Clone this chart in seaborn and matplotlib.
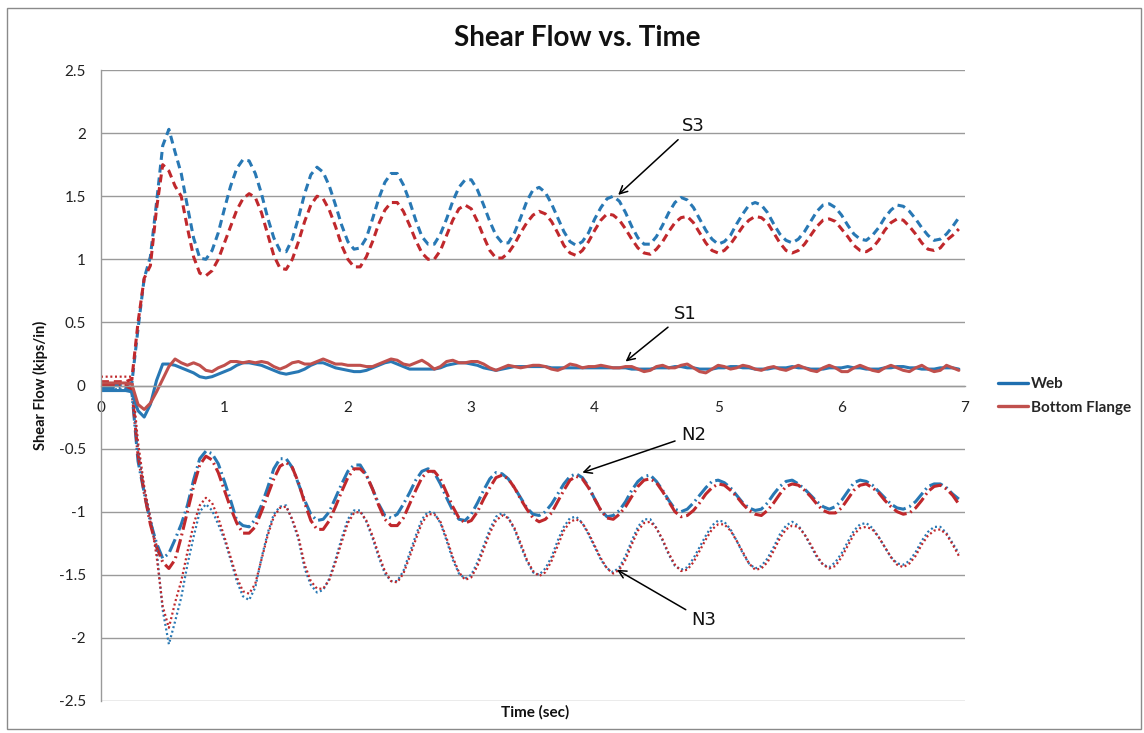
import numpy as np
import pandas as pd
import matplotlib
matplotlib.use("Agg")
import matplotlib.pyplot as plt
from matplotlib.lines import Line2D
from matplotlib.patches import Rectangle
import seaborn as sns

# ---------------- data ----------------
time = np.round(np.arange(0, 140) * 0.05, 2)   # 0.00 ... 6.95 s

s3_web = [0.00, 0.00, 0.00, 0.00, 0.00, 0.02, 0.45, 0.85, 1.02, 1.45,
          1.90, 2.03, 1.85, 1.68, 1.42, 1.17, 1.01, 1.00, 1.07, 1.21,
          1.40, 1.58, 1.72, 1.79, 1.78, 1.68, 1.52, 1.33, 1.17, 1.07,
          1.06, 1.16, 1.33, 1.52, 1.67, 1.73, 1.69, 1.58, 1.43, 1.27,
          1.14, 1.08, 1.09, 1.17, 1.32, 1.48, 1.61, 1.68, 1.68, 1.59,
          1.46, 1.31, 1.18, 1.12, 1.12, 1.20, 1.32, 1.46, 1.57, 1.63,
          1.63, 1.55, 1.43, 1.30, 1.19, 1.13, 1.13, 1.21, 1.33, 1.46,
          1.55, 1.57, 1.53, 1.44, 1.33, 1.22, 1.14, 1.11, 1.14, 1.21,
          1.32, 1.41, 1.48, 1.50, 1.46, 1.37, 1.26, 1.17, 1.12, 1.12,
          1.18, 1.27, 1.37, 1.45, 1.49, 1.47, 1.41, 1.32, 1.23, 1.16,
          1.12, 1.14, 1.19, 1.28, 1.36, 1.43, 1.45, 1.43, 1.37, 1.28,
          1.20, 1.15, 1.13, 1.16, 1.22, 1.30, 1.38, 1.43, 1.44, 1.41,
          1.35, 1.27, 1.20, 1.16, 1.15, 1.19, 1.25, 1.33, 1.39, 1.43,
          1.42, 1.38, 1.32, 1.25, 1.19, 1.15, 1.16, 1.20, 1.26, 1.33]

s3_flange = [0.03, 0.03, 0.03, 0.03, 0.03, 0.05, 0.50, 0.85, 0.95, 1.40,
             1.75, 1.70, 1.58, 1.50, 1.25, 1.02, 0.89, 0.87, 0.91, 1.00,
             1.13, 1.26, 1.39, 1.48, 1.52, 1.49, 1.37, 1.20, 1.03, 0.93,
             0.92, 1.00, 1.14, 1.30, 1.43, 1.50, 1.48, 1.39, 1.26, 1.11,
             1.00, 0.94, 0.94, 1.02, 1.14, 1.28, 1.39, 1.45, 1.45, 1.38,
             1.27, 1.15, 1.05, 1.00, 1.00, 1.07, 1.19, 1.31, 1.40, 1.43,
             1.40, 1.30, 1.18, 1.07, 1.01, 1.01, 1.05, 1.12, 1.21, 1.29,
             1.35, 1.38, 1.36, 1.30, 1.21, 1.11, 1.05, 1.03, 1.07, 1.14,
             1.23, 1.31, 1.36, 1.35, 1.31, 1.24, 1.16, 1.09, 1.05, 1.04,
             1.08, 1.14, 1.22, 1.29, 1.33, 1.34, 1.29, 1.21, 1.13, 1.07,
             1.05, 1.07, 1.12, 1.19, 1.26, 1.31, 1.34, 1.33, 1.29, 1.21,
             1.13, 1.07, 1.05, 1.07, 1.12, 1.19, 1.26, 1.31, 1.32, 1.30,
             1.24, 1.18, 1.11, 1.07, 1.06, 1.09, 1.15, 1.23, 1.29, 1.32,
             1.31, 1.26, 1.20, 1.13, 1.08, 1.07, 1.09, 1.15, 1.19, 1.24]

s1_web = [-0.04, -0.04, -0.04, -0.04, -0.04, -0.05, -0.20, -0.25, -0.15, 0.04,
          0.17, 0.17, 0.16, 0.14, 0.12, 0.10, 0.07, 0.06, 0.07, 0.09,
          0.11, 0.13, 0.16, 0.18, 0.18, 0.17, 0.16, 0.14, 0.12, 0.10,
          0.09, 0.10, 0.11, 0.13, 0.16, 0.18, 0.18, 0.16, 0.14, 0.13,
          0.12, 0.11, 0.11, 0.12, 0.14, 0.16, 0.18, 0.19, 0.17, 0.15,
          0.13, 0.13, 0.13, 0.13, 0.13, 0.14, 0.16, 0.17, 0.18, 0.18,
          0.17, 0.16, 0.14, 0.13, 0.12, 0.13, 0.14, 0.15, 0.15, 0.15,
          0.15, 0.15, 0.15, 0.14, 0.14, 0.14, 0.14, 0.14, 0.14, 0.14,
          0.14, 0.14, 0.14, 0.14, 0.14, 0.14, 0.13, 0.13, 0.13, 0.13,
          0.14, 0.14, 0.14, 0.15, 0.15, 0.14, 0.14, 0.13, 0.13, 0.13,
          0.14, 0.14, 0.15, 0.15, 0.14, 0.14, 0.13, 0.13, 0.13, 0.14,
          0.14, 0.14, 0.15, 0.14, 0.14, 0.13, 0.13, 0.13, 0.14, 0.14,
          0.14, 0.15, 0.14, 0.14, 0.13, 0.13, 0.13, 0.14, 0.14, 0.15,
          0.15, 0.14, 0.14, 0.13, 0.13, 0.13, 0.14, 0.14, 0.14, 0.13]

s1_flange = [0.02, 0.02, 0.02, 0.02, 0.02, 0.01, -0.15, -0.19, -0.14, -0.05,
             0.05, 0.15, 0.21, 0.18, 0.16, 0.18, 0.16, 0.12, 0.11, 0.14,
             0.16, 0.19, 0.19, 0.18, 0.19, 0.18, 0.19, 0.18, 0.15, 0.13,
             0.15, 0.18, 0.19, 0.17, 0.17, 0.19, 0.21, 0.19, 0.17, 0.17,
             0.16, 0.16, 0.16, 0.15, 0.15, 0.17, 0.19, 0.21, 0.20, 0.17,
             0.16, 0.18, 0.20, 0.17, 0.13, 0.15, 0.19, 0.20, 0.18, 0.18,
             0.19, 0.19, 0.17, 0.14, 0.12, 0.14, 0.16, 0.15, 0.14, 0.15,
             0.16, 0.16, 0.15, 0.13, 0.12, 0.14, 0.17, 0.16, 0.14, 0.15,
             0.15, 0.16, 0.15, 0.14, 0.14, 0.15, 0.15, 0.13, 0.11, 0.12,
             0.15, 0.16, 0.14, 0.14, 0.16, 0.17, 0.14, 0.11, 0.10, 0.13,
             0.16, 0.15, 0.13, 0.14, 0.16, 0.15, 0.13, 0.12, 0.14, 0.15,
             0.13, 0.12, 0.14, 0.16, 0.14, 0.12, 0.11, 0.14, 0.16, 0.14,
             0.11, 0.11, 0.14, 0.16, 0.14, 0.12, 0.11, 0.14, 0.16, 0.14,
             0.12, 0.11, 0.14, 0.16, 0.13, 0.11, 0.12, 0.16, 0.14, 0.12]

n2_web = [-0.02, -0.02, -0.02, -0.02, -0.02, -0.05, -0.60, -0.85, -1.08, -1.25,
          -1.37, -1.33, -1.22, -1.10, -0.95, -0.75, -0.58, -0.52, -0.54, -0.62,
          -0.76, -0.91, -1.07, -1.11, -1.12, -1.06, -0.95, -0.81, -0.66, -0.58,
          -0.58, -0.65, -0.78, -0.91, -1.02, -1.07, -1.06, -1.00, -0.89, -0.78,
          -0.68, -0.63, -0.63, -0.71, -0.82, -0.94, -1.03, -1.05, -1.02, -0.94,
          -0.85, -0.75, -0.68, -0.66, -0.69, -0.78, -0.89, -0.99, -1.06, -1.07,
          -1.02, -0.93, -0.83, -0.74, -0.69, -0.70, -0.74, -0.81, -0.89, -0.97,
          -1.02, -1.03, -1.00, -0.94, -0.86, -0.78, -0.72, -0.70, -0.73, -0.80,
          -0.90, -0.99, -1.04, -1.03, -0.99, -0.92, -0.83, -0.76, -0.72, -0.71,
          -0.76, -0.83, -0.91, -0.98, -1.00, -0.98, -0.93, -0.87, -0.81, -0.76,
          -0.75, -0.77, -0.81, -0.87, -0.93, -0.97, -0.99, -0.98, -0.93, -0.86,
          -0.80, -0.76, -0.75, -0.78, -0.82, -0.87, -0.92, -0.96, -0.98, -0.96,
          -0.91, -0.84, -0.77, -0.75, -0.76, -0.79, -0.84, -0.89, -0.94, -0.97,
          -0.98, -0.96, -0.92, -0.86, -0.80, -0.78, -0.78, -0.81, -0.86, -0.90]

n2_flange = [0.00, 0.00, 0.00, 0.00, 0.00, -0.03, -0.55, -0.85, -1.10, -1.28,
             -1.40, -1.45, -1.38, -1.20, -1.00, -0.80, -0.63, -0.56, -0.59, -0.69,
             -0.83, -0.97, -1.09, -1.17, -1.17, -1.12, -1.00, -0.87, -0.74, -0.64,
             -0.61, -0.65, -0.77, -0.93, -1.07, -1.14, -1.14, -1.07, -0.96, -0.84,
             -0.73, -0.66, -0.66, -0.71, -0.82, -0.95, -1.06, -1.11, -1.11, -1.05,
             -0.94, -0.83, -0.73, -0.68, -0.68, -0.74, -0.85, -0.96, -1.05, -1.09,
             -1.07, -1.00, -0.90, -0.81, -0.73, -0.71, -0.74, -0.81, -0.90, -0.98,
             -1.05, -1.08, -1.06, -1.01, -0.92, -0.83, -0.75, -0.72, -0.74, -0.81,
             -0.90, -0.99, -1.05, -1.06, -1.02, -0.96, -0.88, -0.80, -0.75, -0.74,
             -0.77, -0.84, -0.92, -1.00, -1.04, -1.03, -0.99, -0.93, -0.86, -0.81,
             -0.78, -0.79, -0.83, -0.88, -0.94, -0.99, -1.02, -1.03, -0.99, -0.93,
             -0.86, -0.80, -0.78, -0.79, -0.83, -0.88, -0.94, -0.99, -1.01, -1.01,
             -0.97, -0.90, -0.83, -0.79, -0.78, -0.81, -0.85, -0.91, -0.96, -1.00,
             -1.02, -1.01, -0.97, -0.91, -0.84, -0.80, -0.79, -0.82, -0.87, -0.94]

n3_web = [-0.03, -0.03, -0.03, -0.03, -0.03, -0.05, -0.50, -0.82, -1.05, -1.30,
          -1.78, -2.05, -1.87, -1.68, -1.42, -1.20, -1.00, -0.94, -0.99, -1.10,
          -1.22, -1.38, -1.55, -1.67, -1.70, -1.60, -1.37, -1.17, -1.02, -0.96,
          -0.95, -1.07, -1.22, -1.45, -1.58, -1.64, -1.62, -1.53, -1.38, -1.21,
          -1.06, -0.99, -0.99, -1.08, -1.21, -1.36, -1.49, -1.55, -1.55, -1.47,
          -1.33, -1.19, -1.06, -1.00, -1.01, -1.09, -1.23, -1.38, -1.49, -1.53,
          -1.50, -1.40, -1.27, -1.14, -1.04, -1.01, -1.05, -1.14, -1.27, -1.39,
          -1.48, -1.50, -1.45, -1.36, -1.23, -1.12, -1.05, -1.04, -1.09, -1.18,
          -1.28, -1.38, -1.45, -1.48, -1.44, -1.35, -1.23, -1.12, -1.06, -1.06,
          -1.13, -1.23, -1.34, -1.43, -1.46, -1.44, -1.37, -1.28, -1.19, -1.11,
          -1.07, -1.08, -1.14, -1.23, -1.33, -1.41, -1.45, -1.43, -1.37, -1.28,
          -1.18, -1.11, -1.08, -1.11, -1.18, -1.27, -1.36, -1.42, -1.44, -1.40,
          -1.33, -1.24, -1.15, -1.10, -1.09, -1.13, -1.20, -1.28, -1.36, -1.41,
          -1.42, -1.39, -1.32, -1.23, -1.16, -1.12, -1.12, -1.17, -1.25, -1.33]

n3_flange = [0.07, 0.07, 0.07, 0.07, 0.07, 0.07, -0.45, -0.80, -1.05, -1.35,
             -1.75, -1.92, -1.72, -1.55, -1.32, -1.10, -0.95, -0.89, -0.93, -1.05,
             -1.20, -1.36, -1.52, -1.63, -1.65, -1.57, -1.38, -1.19, -1.04, -0.97,
             -0.96, -1.06, -1.20, -1.42, -1.55, -1.61, -1.61, -1.54, -1.40, -1.24,
             -1.09, -1.01, -1.00, -1.07, -1.19, -1.34, -1.47, -1.55, -1.56, -1.49,
             -1.36, -1.22, -1.09, -1.02, -1.02, -1.08, -1.21, -1.36, -1.48, -1.54,
             -1.52, -1.43, -1.30, -1.17, -1.07, -1.03, -1.05, -1.13, -1.25, -1.38,
             -1.47, -1.51, -1.48, -1.39, -1.27, -1.15, -1.08, -1.06, -1.09, -1.17,
             -1.27, -1.37, -1.45, -1.49, -1.46, -1.38, -1.26, -1.15, -1.09, -1.08,
             -1.13, -1.22, -1.33, -1.42, -1.47, -1.46, -1.40, -1.31, -1.22, -1.14,
             -1.10, -1.10, -1.15, -1.23, -1.32, -1.41, -1.46, -1.45, -1.40, -1.31,
             -1.21, -1.14, -1.11, -1.12, -1.18, -1.26, -1.35, -1.42, -1.45, -1.43,
             -1.36, -1.27, -1.18, -1.13, -1.12, -1.14, -1.20, -1.28, -1.36, -1.42,
             -1.44, -1.41, -1.35, -1.26, -1.19, -1.15, -1.14, -1.18, -1.26, -1.35]

legend_labels = ["Web", "Bottom Flange"]
ytick_values = [-2.5, -2, -1.5, -1, -0.5, 0, 0.5, 1, 1.5, 2, 2.5]
ytick_labels = ["-2.5", "-2", "-1.5", "-1", "-0.5", "0", "0.5", "1", "1.5", "2", "2.5"]
xtick_values = [0, 1, 2, 3, 4, 5, 6, 7]
xtick_labels = ["0", "1", "2", "3", "4", "5", "6", "7"]
annotations = [("S3", 4.19, 1.51, 4.80, 2.06),
               ("S1", 4.25, 0.19, 4.73, 0.57),
               ("N2", 3.90, -0.69, 4.80, -0.39),
               ("N3", 4.18, -1.46, 4.885, -1.86)]

# ---------------- style ----------------
sns.set_theme(style="white")
plt.rcParams['font.family'] = ['Lato', 'DejaVu Sans']

BLUE = "#2878b4"
RED = "#c0282c"
RED_SOLID = "#c0504d"
GRID = "#9a9a9a"

W, H = 1144, 733
fig = plt.figure(figsize=(W / 100, H / 100), dpi=100)
ax = fig.add_axes([101 / W, 1 - 701 / H, (965 - 101) / W, (701 - 70) / H])

DASH = (0, (2.6, 1.6))
DASHDOT = (0, (4.5, 1.3, 0.6, 1.3))
DOT = (0, (0.9, 1.2))
series = [
    (s3_web, BLUE, DASH, 2.2),
    (s3_flange, RED, DASH, 2.2),
    (n2_web, BLUE, DASHDOT, 2.2),
    (n2_flange, RED, DASHDOT, 2.2),
    (n3_web, BLUE, DOT, 1.6),
    (n3_flange, RED, DOT, 1.6),
    (s1_web, BLUE, "-", 2.2),
    (s1_flange, RED_SOLID, "-", 2.2),
]
for vals, col, ls, lw in series:
    df = pd.DataFrame({"t": time, "v": vals})
    sns.lineplot(data=df, x="t", y="v", ax=ax, color=col, linestyle=ls,
                 linewidth=lw, legend=False, errorbar=None)

ax.set_xlim(0, 7)
ax.set_ylim(-2.5, 2.5)
ax.set_yticks(ytick_values)
ax.set_yticklabels(ytick_labels)
ax.set_xticks(xtick_values)
ax.set_xticklabels(xtick_labels)
ax.set_xlabel("")
ax.set_ylabel("")
ax.yaxis.grid(True, color=GRID, linewidth=1.0)
ax.xaxis.grid(False)
ax.set_axisbelow(True)
for side in ["top", "right"]:
    ax.spines[side].set_visible(False)
ax.spines["left"].set_color(GRID)
ax.spines["left"].set_linewidth(1.0)
ax.spines["bottom"].set_position(("data", 0))
ax.spines["bottom"].set_color(GRID)
ax.spines["bottom"].set_linewidth(1.0)
ax.tick_params(axis="y", length=0, pad=11, labelsize=11, labelcolor="#222222")
ax.tick_params(axis="x", length=0, pad=11, labelsize=11, labelcolor="#222222")

for label, tx, ty, lx, ly in annotations:
    ax.annotate(label, xy=(tx, ty), xytext=(lx, ly), ha="center", va="center",
                fontsize=13, family="DejaVu Sans", color="#111111",
                arrowprops=dict(arrowstyle="->", color="black", lw=1.1,
                                shrinkA=2, shrinkB=0, mutation_scale=14))

fig.text(577 / W, 1 - 38 / H, "Shear Flow vs. Time", ha="center", va="center",
         fontsize=20, fontweight="bold", color="#111111")
fig.text(40 / W, 1 - 385 / H, "Shear Flow (kips/in)", ha="center", va="center",
         rotation=90, fontsize=10.5, fontweight="bold", color="#111111")
fig.text(535 / W, 1 - 712 / H, "Time (sec)", ha="center", va="center",
         fontsize=11, fontweight="bold", color="#111111")

handles = [Line2D([], [], color="#1f6fb0", lw=2.4),
           Line2D([], [], color=RED_SOLID, lw=2.4)]
fig.legend(handles, legend_labels, loc="center left",
           bbox_to_anchor=(984 / W, 1 - 396 / H), frameon=False,
           handlelength=2.0, handletextpad=0.15, labelspacing=0.6,
           prop={"weight": "bold", "size": 11})

fig.patches.append(Rectangle((7 / W, 4 / H), (1141 - 7) / W, (729 - 8) / H,
                             transform=fig.transFigure, fill=False,
                             edgecolor="#8a8a8a", linewidth=1.0))

fig.savefig("out.png", dpi=100)
